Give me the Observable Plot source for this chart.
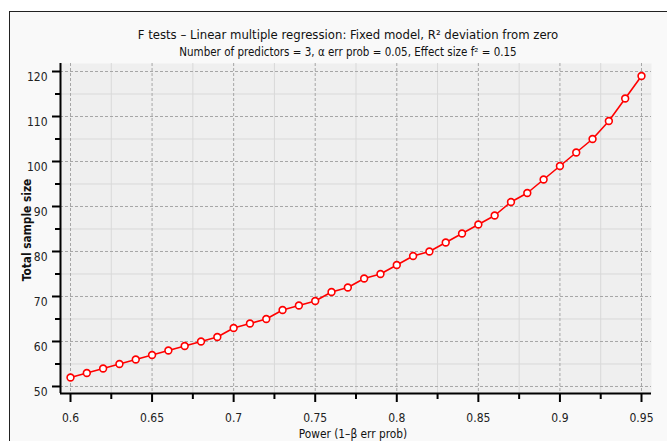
<!DOCTYPE html>
<html><head><meta charset="utf-8">
<script src="https://cdn.jsdelivr.net/npm/d3@7"></script>
<script src="https://cdn.jsdelivr.net/npm/@observablehq/plot@0.6"></script>
<style>
html,body{margin:0;padding:0;background:#fff;}
#wrap{position:relative;width:667px;height:441px;overflow:hidden;font-family:"DejaVu Sans Condensed",sans-serif;color:#111;}
#frame{position:absolute;left:9px;top:11px;width:700px;height:500px;border-left:1px solid #222;border-top:1px solid #222;background:#f9f9f9;}
#chart{position:absolute;left:0;top:0;}
.t{position:absolute;left:0;width:696px;text-align:center;white-space:nowrap;}
#title{top:27px;font-size:13px;}
#subtitle{top:45px;font-size:11.5px;}
#xlabel{position:absolute;left:253px;width:200px;text-align:center;top:427px;font-size:11.8px;}
#ylabel{position:absolute;left:-73px;top:223px;width:200px;text-align:center;font-size:11.8px;font-weight:bold;transform:rotate(-90deg);}
</style>
</head><body>
<div id="wrap">
  <div id="frame"></div>
  <div id="chart"></div>
  <div class="t" id="title">F tests – Linear multiple regression: Fixed model, R² deviation from zero</div>
  <div class="t" id="subtitle">Number of predictors = 3, α err prob = 0.05, Effect size f² = 0.15</div>
  <div id="xlabel">Power (1–β err prob)</div>
  <div id="ylabel">Total sample size</div>
</div>
<script>
const power = [0.60,0.61,0.62,0.63,0.64,0.65,0.66,0.67,0.68,0.69,0.70,0.71,0.72,0.73,0.74,0.75,0.76,0.77,0.78,0.79,0.80,0.81,0.82,0.83,0.84,0.85,0.86,0.87,0.88,0.89,0.90,0.91,0.92,0.93,0.94,0.95];
const sampleSize = [52,53,54,55,56,57,58,59,60,61,63,64,65,67,68,69,71,72,74,75,77,79,80,82,84,86,88,91,93,96,99,102,105,109,114,119];
const xMajor = [0.6,0.65,0.7,0.75,0.8,0.85,0.9,0.95];
const xTickLabels = ["0.6","0.65","0.7","0.75","0.8","0.85","0.9","0.95"];
const xMinor = [0.625,0.675,0.725,0.775,0.825,0.875,0.925];
const yMajor = [50,60,70,80,90,100,110,120];
const yMinor = [55,65,75,85,95,105,115];
const xDomain = [0.59387,0.95613];
const yDomain = [48.44,121.78];

const data = power.map((p,i)=>({power:p, n:sampleSize[i]}));

const plot = Plot.plot({
  width:667, height:441,
  marginLeft:60, marginRight:16, marginTop:63, marginBottom:48,
  style:{background:"transparent", fontFamily:'"DejaVu Sans Condensed",sans-serif', fontSize:"12px", color:"#222", overflow:"visible"},
  x:{domain:xDomain},
  y:{domain:yDomain},
  marks:[
    Plot.frame({fill:"#efefef", stroke:null}),
    Plot.gridX(xMinor,{stroke:"#d9d9d9", strokeOpacity:1, strokeWidth:1}),
    Plot.gridY(yMinor,{stroke:"#d9d9d9", strokeOpacity:1, strokeWidth:1}),
    Plot.gridX(xMajor,{stroke:"#a6a6a6", strokeOpacity:1, strokeWidth:1, strokeDasharray:"3,2"}),
    Plot.gridY(yMajor,{stroke:"#a6a6a6", strokeOpacity:1, strokeWidth:1, strokeDasharray:"3,2"}),
    Plot.axisX(xMinor,{tickSize:6, tickFormat:()=>"", stroke:"#000", strokeWidth:2, label:null}),
    Plot.axisX(xMajor,{tickSize:9, tickFormat:()=>"", stroke:"#000", strokeWidth:2, label:null}),
    Plot.axisX(xMajor,{tickSize:0, tickPadding:20, tickFormat:d=>xTickLabels[xMajor.indexOf(d)], fill:"#222", label:null}),
    Plot.axisY(yMinor,{tickSize:5, tickFormat:()=>"", stroke:"#000", strokeWidth:2, label:null}),
    Plot.axisY(yMajor,{tickSize:8, tickFormat:()=>"", stroke:"#000", strokeWidth:2, label:null}),
    Plot.axisY(yMajor,{tickSize:0, tickPadding:13, dy:6, fill:"#222", label:null}),
    Plot.ruleX([xDomain[0]],{stroke:"#000", strokeWidth:2}),
    Plot.ruleY([yDomain[0]],{stroke:"#000", strokeWidth:2}),
    Plot.line(data,{x:"power", y:"n", stroke:"#ff0000", strokeWidth:1.6}),
    Plot.dot(data,{x:"power", y:"n", r:3.4, fill:"#ffffff", stroke:"#ff0000", strokeWidth:1.6})
  ]
});
document.getElementById("chart").appendChild(plot);
</script>
</body></html>
